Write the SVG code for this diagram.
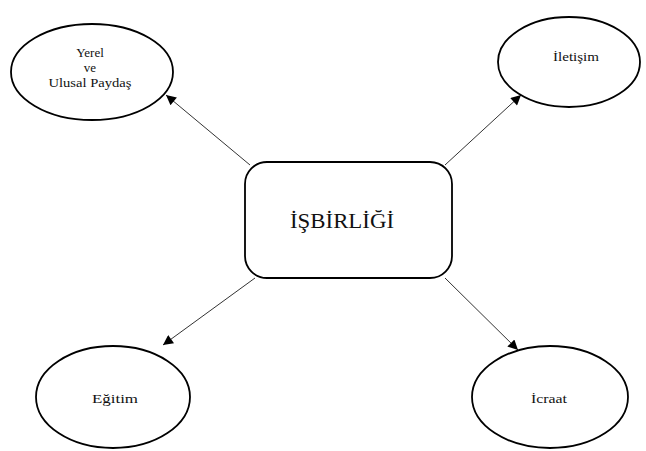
<svg xmlns="http://www.w3.org/2000/svg" width="646" height="451" viewBox="0 0 646 451">
<style>
.n{fill:#fff;stroke:#000;stroke-width:1.8}
.t{fill:#111;text-anchor:middle}
.c{stroke:#333;stroke-width:1;fill:none;marker-end:url(#ah)}
</style>
<defs>
<marker id="ah" viewBox="0 0 10 10" refX="10" refY="5" markerWidth="12" markerHeight="10" markerUnits="userSpaceOnUse" orient="auto">
<path d="M0,0L10,5L0,10z" fill="#000"/>
</marker>
</defs>
<rect width="646" height="451" fill="#fff"/>
<g id="connectors">
<line class="c" x1="250" y1="165" x2="166" y2="95"/>
<line class="c" x1="445" y1="165" x2="521" y2="95"/>
<line class="c" x1="255" y1="278" x2="163" y2="345"/>
<line class="c" x1="445" y1="278" x2="518" y2="350"/>
</g>
<g font-family="Liberation Serif, DejaVu Serif, serif">
<g id="center">
<rect class="n" x="245" y="162" width="207" height="116" rx="22"/>
<text class="t" x="342" y="228" font-size="21" textLength="104" lengthAdjust="spacingAndGlyphs">İŞBİRLİĞİ</text>
</g>
<g id="yerel">
<ellipse class="n" cx="92" cy="72" rx="81" ry="48"/>
<text class="t" x="90" y="57" font-size="13">Yerel</text>
<text class="t" x="90" y="72" font-size="13">ve</text>
<text class="t" x="90" y="87" font-size="13" textLength="83" lengthAdjust="spacingAndGlyphs">Ulusal Paydaş</text>
</g>
<g id="iletisim">
<ellipse class="n" cx="569" cy="62" rx="71" ry="45"/>
<text class="t" x="576" y="61" font-size="13" textLength="46" lengthAdjust="spacingAndGlyphs">İletişim</text>
</g>
<g id="egitim">
<ellipse class="n" cx="113" cy="397" rx="77" ry="51"/>
<text class="t" x="115" y="403" font-size="13.5" textLength="46" lengthAdjust="spacingAndGlyphs">Eğitim</text>
</g>
<g id="icraat">
<ellipse class="n" cx="550" cy="397" rx="78" ry="51"/>
<text class="t" x="549" y="403" font-size="13" textLength="36" lengthAdjust="spacingAndGlyphs">İcraat</text>
</g>
</g>
</svg>
